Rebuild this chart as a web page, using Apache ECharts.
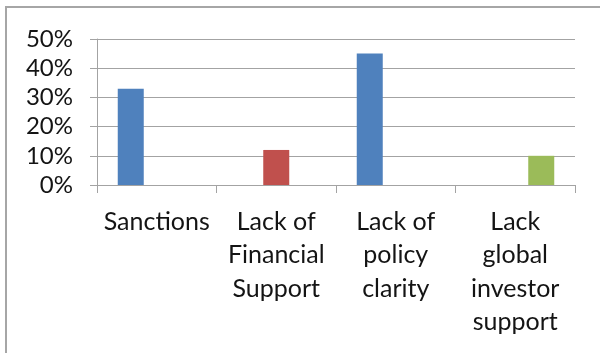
<!DOCTYPE html>
<html>
<head>
<meta charset="utf-8">
<script src="https://cdn.jsdelivr.net/npm/echarts@6/dist/echarts.min.js"></script>
<style>
  html, body { margin: 0; padding: 0; background: #ffffff; }
  #chart { width: 600px; height: 353px; }
</style>
</head>
<body>
<div id="chart"></div>
<script>
// Obstacles, as share of respondents (%)
const categories = [
  'Sanctions',
  'Lack of\nFinancial\nSupport',
  'Lack of\npolicy\nclarity',
  'Lack\nglobal\ninvestor\nsupport'
];
const series1Values = [33, null, 45, null];
const series2Values = [null, 12, null, null];
const series3Values = [null, null, null, 10];
const yTicks = [0, 10, 20, 30, 40, 50];

const gridColor = '#a3a3a3';
const textStyle = { fontFamily: 'Lato', color: '#141414' };

const chart = echarts.init(document.getElementById('chart'), null, { renderer: 'canvas' });

function barSeries(name, values, color) {
  return {
    name: name,
    type: 'bar',
    data: values,
    barWidth: 26,
    barGap: '0%',
    itemStyle: { color: color },
    emphasis: { disabled: true }
  };
}

chart.setOption({
  animation: false,
  backgroundColor: '#ffffff',
  graphic: [{
    type: 'rect',
    shape: { x: 6, y: 7, width: 700, height: 500 },
    style: { fill: 'none', stroke: '#a6a6a6', lineWidth: 2 },
    silent: true
  }],
  grid: { left: 97, right: 25, top: 39, bottom: 168, containLabel: false },
  xAxis: {
    type: 'category',
    data: categories,
    axisLine: { show: true, lineStyle: { color: gridColor, width: 1 } },
    axisTick: { show: true, length: 8, lineStyle: { color: gridColor } },
    axisLabel: Object.assign({ interval: 0, margin: 20, lineHeight: 33.5, fontSize: 25, align: 'center' }, textStyle),
    splitLine: { show: false }
  },
  yAxis: {
    type: 'value',
    min: yTicks[0],
    max: yTicks[yTicks.length - 1],
    interval: 10,
    axisLine: { show: true, lineStyle: { color: gridColor, width: 1 } },
    axisTick: { show: true, length: 7, lineStyle: { color: gridColor } },
    axisLabel: Object.assign({ margin: 24, fontSize: 24, formatter: '{value}%' }, textStyle),
    splitLine: { show: true, lineStyle: { color: gridColor, width: 1 } }
  },
  series: [
    barSeries('Series1', series1Values, '#4f81bd'),
    barSeries('Series2', series2Values, '#c0504d'),
    barSeries('Series3', series3Values, '#9bbb59')
  ]
});
</script>
</body>
</html>
